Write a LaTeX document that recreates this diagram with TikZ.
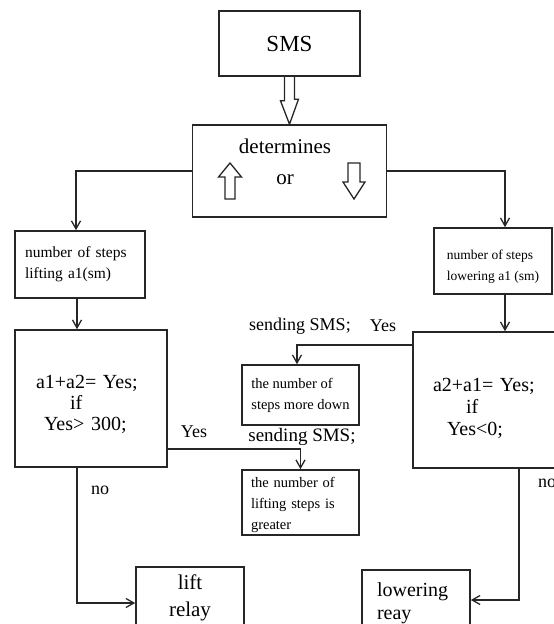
\documentclass[tikz,border=0pt]{standalone}
\usepackage{fontspec}
\setmainfont{Liberation Serif}
\usetikzlibrary{arrows.meta}
\newcommand{\fsz}[2]{\fontsize{#1}{#2}\selectfont}
\tikzset{
	box/.style={
		draw=black!85, line width=1.6pt, inner sep=0pt,
		%	draw=black, line width=1.2pt,
		align=left
	},
	arr/.style={draw=black!85, line width=1.3pt, -{Straight Barb[length=8pt,width=9pt]}},
	hollow/.style={draw=black!85, line width=1.3pt, line join=miter},
	lbl/.style={inner sep=0pt, font={\fsz{18}{22}}},
	>=stealth,
}
\begin{document}
\begin{tikzpicture}[x=1pt, y=-1pt]
\useasboundingbox (0,0) rectangle (554,624);
% top
\node [box, minimum width=141pt, minimum height=65pt, font={\fsz{23}{27}}] (sms) at (289.5,43.5) {SMS};
\node [box, minimum width=194pt, minimum height=92pt] (det) at (289.5,171) {};
\node [inner sep=0pt, font={\fsz{21}{25}}] (detword) at (285,146) {determines};
\node [inner sep=0pt, font={\fsz{21}{25}}] (detor) at (285,180) {or};
\draw [hollow] ([xshift=-5pt]sms.south) -- ++(0,24) -- ++(-4,0) -- (det.north)
	-- ++(9,-25) -- ++(-4,0) -- ++(0,-24);
\draw [hollow] (230,163) -- (241.5,177) -- (235,177) -- (235,199) -- (225,199)
	-- (225,177) -- (218.5,177) -- cycle;
\draw [hollow] (354,199) -- (365,182) -- (360,182) -- (360,163) -- (348,163)
	-- (348,182) -- (343,182) -- cycle;
% left branch
\node [box, minimum width=130pt, minimum height=67pt, inner xsep=10pt, text width=110pt,
	font={\fsz{15.5}{21}}] (liftsteps) at (80,264.5) {number of steps\\lifting a1(sm)};
\node [box, minimum width=152pt, minimum height=137pt, inner xsep=21pt, text width=110pt,
	font={\fsz{20}{21}}] (condA) at (91,398.5)
	{\rule{0pt}{26pt}a1+a2= Yes;\\\hspace*{34pt}if\\\hspace*{8pt}Yes> 300;};
\node [box, minimum width=117pt, minimum height=65pt, inner xsep=9pt, text width=99pt,
	font={\fsz{14.5}{21}}] (greater) at (300.5,502.5)
	{\rule{0pt}{16pt}the number of\\lifting steps is\\greater};
\node [box, minimum width=108pt, minimum height=62pt, align=center,
	font={\fsz{21}{27}}] (lift) at (190,598) {lift\\relay};
% right branch
\node [box, minimum width=118pt, minimum height=66pt,
	font={\fsz{13.5}{21}}] (lowsteps) at (493,261) {\rule{0pt}{20.5pt}number of steps\\lowering a1 (sm)};
\node [box, minimum width=147pt, minimum height=136pt, inner xsep=20pt, text width=107pt,
	font={\fsz{20}{22}}] (condB) at (486.5,400)
	{\rule{0pt}{30pt}a2+a1= Yes;\\\hspace*{33pt}if\\\hspace*{14pt}Yes<0;};
\node [box, minimum width=117pt, minimum height=60pt,
	font={\fsz{14.5}{21}}] (moredown) at (300.5,395)
	{the number of\\steps more down};
\node [box, minimum width=108pt, minimum height=66pt, inner xsep=15pt, text width=78pt,
	font={\fsz{20}{23}}] (lower) at (416,603) {lowering\\reay};
% labels
\node [lbl] (smsA) at (300,326) {sending SMS;};
\node [lbl] (yesA) at (383,326) {Yes};
\node [lbl, font={\fsz{19}{22}}] (smsB) at (302,437) {sending SMS;};
\node [lbl] (yesB) at (194,432) {Yes};
\node [lbl] (noA) at (100,490) {no};
\node [lbl, anchor=west] (noB) at (538,483) {no};
% connectors
\draw [arr] (det.west) -| ([xshift=-4pt]liftsteps.north);
\draw [arr] (det.east) -| ([xshift=12pt]lowsteps.north);
\draw [arr] ([xshift=-3pt]liftsteps.south) -- ([xshift=-3pt]liftsteps.south |- condA.north);
\draw [arr] ([xshift=12pt]lowsteps.south) -- ([xshift=12pt]lowsteps.south |- condB.north);
\draw [arr] ([yshift=-50.5pt]condA.east) -| (greater.north);
\draw [arr] ([yshift=55pt]condB.west) -| ([xshift=-3.5pt]moredown.north);
\draw [arr] ([xshift=-14pt]condA.south) |- ([yshift=-5pt]lift.west);
\draw [arr] ([xshift=32.5pt]condB.south) |- ([yshift=3pt]lower.east);
\end{tikzpicture}
\end{document}
